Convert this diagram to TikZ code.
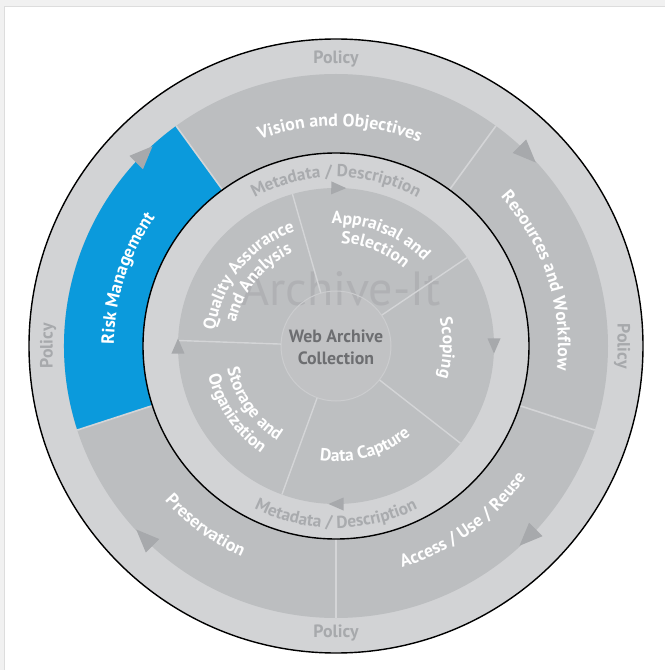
\documentclass[tikz,border=0pt]{standalone}
\usepackage{fontspec}
\setmainfont{PT Sans}
\usetikzlibrary{decorations.text}
\definecolor{framec}{HTML}{F1F1F1}
\definecolor{frameline}{HTML}{DDDDDD}
\definecolor{bandc}{HTML}{D2D3D5}
\definecolor{ringc}{HTML}{BCBEC0}
\definecolor{discc}{HTML}{BDBFC1}
\definecolor{hubc}{HTML}{C1C2C4}
\definecolor{hubline}{HTML}{CCCDCF}
\definecolor{sepc}{HTML}{D4D5D7}
\definecolor{arrc}{HTML}{A7A9AC}
\definecolor{policyc}{HTML}{A7A9AC}
\definecolor{metac}{HTML}{A9ABAE}
\definecolor{hubtext}{HTML}{6D6E71}
\definecolor{riskc}{HTML}{0B9ADC}
\definecolor{markc}{HTML}{ABACAF}

\newcommand\labfont{\bfseries\fontsize{17.8bp}{20bp}\selectfont}
\newcommand\inlabfont{\bfseries\fontsize{17.5bp}{20bp}\selectfont}
\newcommand\metafont{\bfseries\fontsize{17.3bp}{20bp}\selectfont}

\newcommand\cwtext[6]{%
  \path[decorate,decoration={text along path,text align=center,text color=#5,text={|#4|#6}}]
    ({#1+#3}:#2) arc[start angle={#1+#3},end angle={#1-#3},radius=#2];}
\newcommand\ccwtext[6]{%
  \path[decorate,decoration={text along path,text align=center,text color=#5,text={|#4|#6}}]
    ({#1-#3}:#2) arc[start angle={#1-#3},end angle={#1+#3},radius=#2];}
\newcommand\cwarrow[5]{%
  \fill[#5,shift={(#1:#2)},rotate={#1-90}] (0.5*#3,0) -- (-0.5*#3,0.5*#4) -- (-0.5*#3,-0.5*#4) -- cycle;}

\tikzset{policy/.style={font=\labfont, text=policyc, inner sep=0pt}}

\begin{document}
\begin{tikzpicture}
\useasboundingbox (-336bp,-324bp) rectangle (329bp,346bp);
\fill[framec] (-336bp,-324bp) rectangle (329bp,346bp);
\fill[white] (-332bp,-324bp) rectangle (329bp,340bp);
\draw[frameline,line width=0.8bp] (-332bp,-324bp) -- (-332bp,340bp) -- (329bp,340bp);

% outer policy band and middle ring
\fill[bandc] (0,0) circle[radius=307bp];
\fill[ringc] (0,0) circle[radius=272bp];
\fill[riskc] (126:272bp) arc[start angle=126,end angle=198,radius=272bp]
  -- (198:193bp) arc[start angle=198,end angle=126,radius=193bp] -- cycle;
\foreach \a in {54,126,198,270,342} \draw[sepc,line width=1.6bp] (\a:190bp) -- (\a:272bp);

% inner band and disc
\fill[bandc] (0,0) circle[radius=193bp];
\draw[black,line width=1.4bp] (0,0) circle[radius=193bp];
\fill[discc] (0,0) circle[radius=158bp];
\fill[hubc] (0,0) circle[radius=55bp];
\node[font=\fontsize{48bp}{50bp}\selectfont,text=markc,opacity=0.7] (mark) at (5bp,57bp) {Archive-It};
\foreach \a in {34,106,178,250,322} \draw[sepc,line width=1.4bp] (\a:55bp) -- (\a:158bp);
\draw[hubline,line width=1bp] (0,0) circle[radius=55bp];

% arrows
\foreach \a in {135,45,-45,-135} {\cwarrow{\a}{271bp}{23bp}{19bp}{arrc}}
\foreach \a in {89,0,-90,180} {\cwarrow{\a}{158bp}{15bp}{13bp}{arrc}}

% policy labels
\node[policy] (polT) at (90:287bp) {Policy};
\node[policy,rotate=-90] (polR) at (0:286bp) {Policy};
\node[policy] (polB) at (-90:287bp) {Policy};
\node[policy,rotate=90] (polL) at (180:288bp) {Policy};

% outer ring labels
\cwtext{89}{220bp}{50}{\labfont}{white}{Vision and Objectives}
\cwtext{18}{222bp}{60}{\labfont}{white}{Resources and Workflow}
\cwtext{162}{222bp}{50}{\labfont}{white}{Risk Management}
\ccwtext{-54}{231bp}{50}{\labfont}{white}{Access / Use / Reuse}
\ccwtext{-126}{231bp}{50}{\labfont}{white}{Preservation}

% metadata band
\cwtext{90}{169bp}{60}{\metafont}{metac}{Metadata / Description}
\ccwtext{-90}{182bp}{60}{\metafont}{metac}{Metadata / Description}

% inner disc labels
\cwtext{68}{122bp}{50}{\inlabfont}{white}{Appraisal and}
\cwtext{68}{103bp}{50}{\inlabfont}{white}{Selection}
\cwtext{141}{122bp}{50}{\inlabfont}{white}{Quality Assurance}
\cwtext{141}{103bp}{50}{\inlabfont}{white}{and Analysis}
\cwtext{-1}{107bp}{45}{\inlabfont}{white}{Scoping}
\ccwtext{-74}{116bp}{50}{\inlabfont}{white}{Data Capture}
\ccwtext{215}{111bp}{50}{\inlabfont}{white}{Storage and}
\ccwtext{214}{131bp}{50}{\inlabfont}{white}{Organization}

\node[font=\bfseries\fontsize{17.8bp}{22bp}\selectfont,text=hubtext,align=center] (hub) at (0,-1bp) {Web Archive\\Collection};

\draw[black,line width=1.4bp] (0,0) circle[radius=307bp];
\end{tikzpicture}
\end{document}
